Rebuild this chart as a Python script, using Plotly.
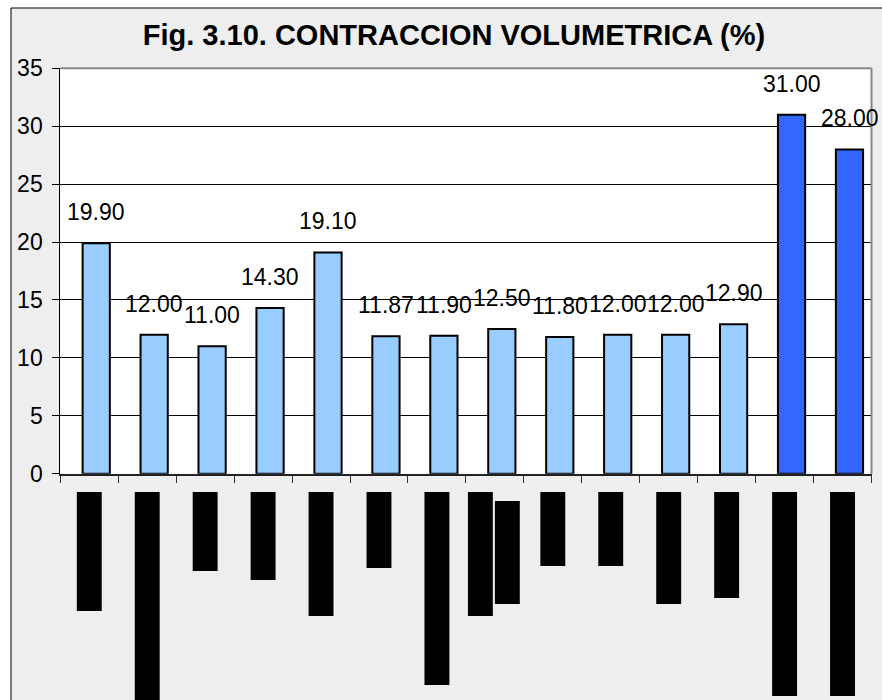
import plotly.graph_objects as go

# ---------------- data ----------------
categories = ["M1", "M2", "M3", "M4", "M5", "M6", "M7",
              "M8", "M9", "M10", "M11", "M12", "M13", "M14"]
values = [19.90, 12.00, 11.00, 14.30, 19.10, 11.87, 11.90,
          12.50, 11.80, 12.00, 12.00, 12.90, 31.00, 28.00]
highlight = [False] * 12 + [True, True]

# redacted (blacked-out) category labels: length of each black box
label_box_lengths = [119, 215, 79, 88, 124, 76, 193, 124, 74, 74, 112, 106, 204, 204]
# category whose label has a second (blacked-out) line
second_line_categories = ["M8"]
second_line_start = [9]
second_line_lengths = [103]

# ---------------- geometry helpers ----------------
W, H = 882, 700
x_dom = [60.3 / W, 871.5 / W]
y_dom = [1 - 473.7 / H, 1 - 68.3 / H]
y2_dom = [0, 1 - 492 / H]

FONT = "Arial, Liberation Sans, sans-serif"

colors = ["#3366FF" if h else "#99CCFF" for h in highlight]

fig = go.Figure()

fig.add_trace(go.Bar(
    x=categories, y=values,
    width=0.47, offset=-0.115,
    marker=dict(color=colors, line=dict(color="black", width=2)),
    hoverinfo="x+y", showlegend=False,
))

# black boxes standing in for redacted tick labels
box_offsets = [(-0.465 if c in second_line_categories else -0.215) for c in categories]
fig.add_trace(go.Bar(
    x=categories, y=[-l for l in label_box_lengths], base=0,
    width=0.43, offset=box_offsets,
    marker=dict(color="black", line=dict(width=0)),
    xaxis="x2", yaxis="y2", hoverinfo="skip", showlegend=False,
))
fig.add_trace(go.Bar(
    x=second_line_categories, y=[-l for l in second_line_lengths],
    base=[-s for s in second_line_start],
    width=0.43, offset=0.0,
    marker=dict(color="black", line=dict(width=0)),
    xaxis="x2", yaxis="y2", hoverinfo="skip", showlegend=False,
))

annotations = []
for c, v in zip(categories, values):
    annotations.append(dict(
        x=c, y=v, xref="x", yref="y", text=f"{v:.2f}", showarrow=False,
        xshift=7, yshift=31, yanchor="middle", xanchor="center",
        font=dict(family=FONT, size=23, color="black"),
    ))

shapes = [
    # outer chart frame
    dict(type="rect", xref="paper", yref="paper",
         x0=11 / W, x1=1.05, y0=-0.05, y1=1 - 8 / H,
         fillcolor="#EEEEEE", line=dict(color="black", width=1), layer="below"),
    # white plot area
    dict(type="rect", xref="x domain", yref="y domain", x0=0, x1=1, y0=0, y1=1,
         fillcolor="white", line=dict(width=0), layer="below"),
    # grey top & right plot-area border
    dict(type="line", xref="x domain", yref="y domain", x0=0, x1=1, y0=1, y1=1,
         line=dict(color="#888888", width=2), layer="above"),
    dict(type="line", xref="x domain", yref="y domain", x0=1, x1=1, y0=0, y1=1,
         line=dict(color="#888888", width=2), layer="above"),
]

fig.update_layout(
    width=W, height=H, autosize=False,
    margin=dict(l=0, r=0, t=0, b=0, pad=0, autoexpand=False),
    paper_bgcolor="white", plot_bgcolor="rgba(0,0,0,0)",
    barmode="overlay",
    font=dict(family=FONT, color="black"),
    title=dict(text="<b>Fig. 3.10. CONTRACCION VOLUMETRICA (%)</b>",
               x=454 / W, xanchor="center", y=1 - 35 / H, yanchor="middle",
               automargin=False,
               font=dict(family=FONT, size=29, color="black")),
    xaxis=dict(domain=x_dom, anchor="y", type="category", range=[-0.5, 13.5],
               showline=True, linecolor="#222222", linewidth=2,
               ticks="outside", tickson="boundaries", ticklen=7, tickcolor="#333333",
               showticklabels=False, showgrid=False, zeroline=False, automargin=False),
    yaxis=dict(domain=y_dom, anchor="x", range=[0, 35], dtick=5,
               showgrid=True, gridcolor="black", gridwidth=1,
               showline=True, linecolor="black", linewidth=1,
               ticks="outside", ticklen=7, tickcolor="black",
               tickfont=dict(family=FONT, size=23, color="black"),
               ticklabelstandoff=5, zeroline=False, automargin=False),
    xaxis2=dict(domain=x_dom, anchor="y2", matches="x", type="category",
                showline=False, ticks="", showticklabels=False,
                showgrid=False, zeroline=False, automargin=False),
    yaxis2=dict(domain=y2_dom, anchor="x2", range=[-208, 0], visible=False,
                automargin=False),
    annotations=annotations,
    shapes=shapes,
)

fig.write_html("out.html",
               config={"displayModeBar": False},
               post_script="document.body.style.margin='0px';document.body.style.overflow='hidden';")
